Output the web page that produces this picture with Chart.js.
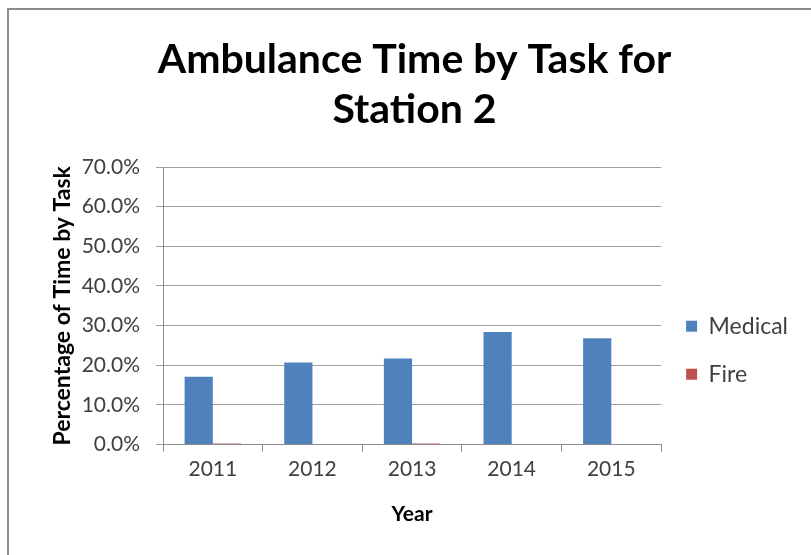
<!DOCTYPE html>
<html>
  <head>
    <meta charset="utf-8" />
    <title>Ambulance Time by Task for Station 2</title>
    <script src="https://cdn.jsdelivr.net/npm/chart.js@4"></script>
    <style>
      html, body { margin: 0; padding: 0; background: #fff; }
      #frame {
        position: absolute; left: 7px; top: 8px; width: 804px; height: 547px;
        border-left: 2px solid #8c8c8c; border-top: 2px solid #8c8c8c;
      }
    </style>
  </head>
  <body>
    <div id="frame">
      <canvas id="taskChart" width="802" height="545"></canvas>
    </div>
    <script>
      const years = ["2011", "2012", "2013", "2014", "2015"];
      const medical = [17.1, 20.7, 21.7, 28.4, 26.8];
      const fire = [0.3, 0, 0.3, 0, 0];

      const fontFam = "Lato, 'Open Sans', sans-serif";

      let ctx = document.getElementById("taskChart").getContext("2d");
      let taskChart = new Chart(ctx, {
        type: "bar",
        data: {
          labels: years,
          datasets: [
            {
              label: "Medical",
              data: medical,
              backgroundColor: "#4f81bd",
              barPercentage: 1,
              categoryPercentage: 0.566,
            },
            {
              label: "Fire",
              data: fire,
              backgroundColor: "#c0504d",
              barPercentage: 1,
              categoryPercentage: 0.566,
            },
          ],
        },
        options: {
          responsive: false,
          animation: false,
          layout: { padding: { left: 22, right: 13, top: 0, bottom: 21 } },
          plugins: {
            title: {
              display: true,
              text: ["Ambulance Time by Task for", "Station 2"],
              color: "#000",
              font: { family: fontFam, size: 41, weight: "bold", lineHeight: 1.22 },
              padding: { top: 25, bottom: 32 },
            },
            legend: {
              position: "right",
              // empty title only pushes the entries down to where Excel put them
              title: { display: true, text: "", font: { size: 12 }, padding: { top: 71, bottom: 71 } },
              labels: {
                boxWidth: 11,
                boxHeight: 11,
                padding: 25,
                color: "#404040",
                font: { family: fontFam, size: 23 },
              },
            },
            tooltip: { enabled: false },
          },
          scales: {
            x: {
              grid: {
                offset: true,
                drawOnChartArea: false,
                drawTicks: true,
                tickLength: 7,
                color: "#8c8c8c",
              },
              border: { color: "#8c8c8c" },
              ticks: { color: "#404040", font: { family: fontFam, size: 21 }, padding: 5 },
              title: {
                display: true,
                text: "Year",
                color: "#000",
                font: { family: fontFam, size: 21, weight: "bold" },
                padding: { top: 15, bottom: 7 },
              },
            },
            y: {
              min: 0,
              max: 70,
              afterFit: (scale) => {
                scale.width = 132;
              },
              ticks: {
                stepSize: 10,
                color: "#404040",
                font: { family: fontFam, size: 21 },
                padding: 16,
                callback: (v) => v.toFixed(1) + "%",
              },
              grid: { color: "#a0a0a0", tickLength: 7 },
              border: { color: "#8c8c8c" },
              title: {
                display: true,
                text: "Percentage of Time by Task",
                color: "#000",
                font: { family: fontFam, size: 23, weight: "bold" },
                padding: { top: 18, bottom: 6 },
              },
            },
          },
        },
      });
    </script>
  </body>
</html>
